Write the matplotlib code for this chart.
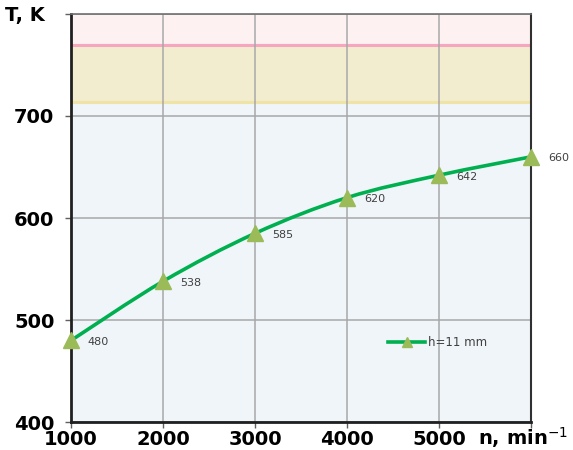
import matplotlib.pyplot as plt
from matplotlib.path import Path
from matplotlib.patches import PathPatch

# speed, min^-1 and temperature, K
n_vals = [1000, 2000, 3000, 4000, 5000, 6000]
t_vals = [480, 538, 585, 620, 642, 660]
x_ticks = [1000, 2000, 3000, 4000, 5000]
y_ticks = [400, 500, 600, 700]
# temperature zones
zone_low = 714
zone_high = 770

line_col = '#00b050'
mark_col = '#9bbb59'


def smooth_path(xs, ys):
    """Catmull-Rom curve through the points as cubic Bezier segments"""
    pts = list(zip(xs, ys))
    verts = [pts[0]]
    codes = [Path.MOVETO]
    for i in range(len(pts) - 1):
        p0 = pts[i - 1] if i > 0 else pts[i]
        p1 = pts[i]
        p2 = pts[i + 1]
        p3 = pts[i + 2] if i + 2 < len(pts) else pts[i + 1]
        c1 = (p1[0] + (p2[0] - p0[0]) / 6, p1[1] + (p2[1] - p0[1]) / 6)
        c2 = (p2[0] - (p3[0] - p1[0]) / 6, p2[1] - (p3[1] - p1[1]) / 6)
        verts += [c1, c2, p2]
        codes += [Path.CURVE4] * 3
    return Path(verts, codes)


fig = plt.figure(figsize=(5.73, 4.5), dpi=100)
ax = fig.add_axes([0.124, 0.062, 0.803, 0.907])
ax.set_xlim(1000, 6000)
ax.set_ylim(400, 800)

ax.axhspan(400, zone_low, color='#f0f5f9', zorder=0)
ax.axhspan(zone_low, zone_high, color='#f3edd0', zorder=0)
ax.axhspan(zone_high, 800, color='#fdf1f1', zorder=0)
ax.axhline(zone_high, color='#f7a6bf', lw=2.2, zorder=1)
ax.axhline(zone_low, color='#efe3a8', lw=2.2, zorder=1)

ax.set_xticks(x_ticks + [6000])
ax.set_yticks(y_ticks + [800])
ax.grid(True, color='#a8a8a8', lw=1.1, zorder=1)

ax.add_patch(PathPatch(smooth_path(n_vals, t_vals), fill=False,
                       edgecolor=line_col, lw=2.6, zorder=3))
ax.plot(n_vals, t_vals, linestyle='none', marker='^', ms=11,
        color=mark_col, zorder=4, clip_on=False)
ax.plot([], [], color=line_col, lw=2.6, marker='^', ms=7,
        mfc=mark_col, mec=mark_col, label='h=11 mm')

for x, y in zip(n_vals, t_vals):
    ax.annotate(str(y), (x, y), xytext=(12, -1), textcoords='offset points',
                fontsize=8, color='#404040', va='center', ha='left',
                annotation_clip=False)

ax.set_xticklabels([str(v) for v in x_ticks] + [''])
ax.set_yticklabels([str(v) for v in y_ticks] + [''])
for lbl in ax.get_xticklabels() + ax.get_yticklabels():
    lbl.set_fontweight('bold')
    lbl.set_fontsize(14)
ax.tick_params(axis='both', length=4, width=1, color='#606060', pad=2)
ax.tick_params(axis='y', pad=8)

for side in ['left', 'bottom']:
    ax.spines[side].set_color('#202020')
    ax.spines[side].set_linewidth(2)
ax.spines['right'].set_color('#303030')
ax.spines['right'].set_linewidth(1.5)
ax.spines['top'].set_color('#707070')
ax.spines['top'].set_linewidth(1.2)

fig.text(0.008, 0.965, 'T, K', fontsize=14, fontweight='bold', va='center')
fig.text(0.835, 0.028, 'n, min$^{-1}$', fontsize=14, fontweight='bold', va='center')

ax.legend(loc='center left', bbox_to_anchor=(0.665, 0.194), frameon=False,
          fontsize=8.5, handlelength=3.2, handletextpad=0.2, labelcolor='#404040')

fig.savefig('out.png', dpi=100)
